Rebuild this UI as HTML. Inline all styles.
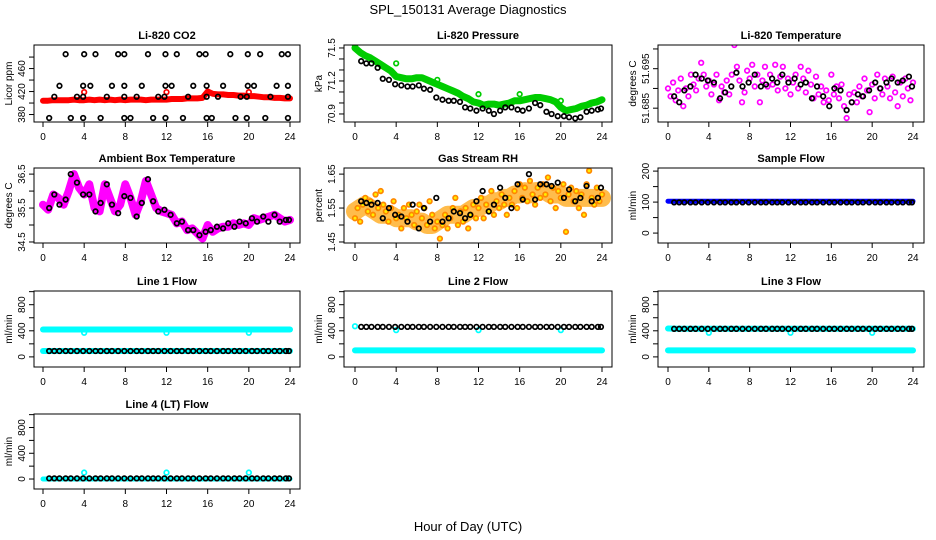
<!DOCTYPE html>
<html><head><meta charset="utf-8"><style>
html,body{margin:0;padding:0;background:#fff;}
svg{display:block;font-family:"Liberation Sans",Arial,sans-serif;}
</style></head><body>
<svg id="chart" width="936" height="540" viewBox="0 0 936 540" xmlns="http://www.w3.org/2000/svg">
<text x="468" y="14" text-anchor="middle" font-size="13">SPL_150131  Average Diagnostics</text>
<text x="468" y="531" text-anchor="middle" font-size="13">Hour of Day (UTC)</text>
</svg>
<script>
// ---- data ----
const blackHours = [0.6,1.1,1.6,2.2,2.7,3.3,3.9,4.5,5.1,5.6,6.2,6.7,7.3,7.9,8.5,9.1,9.6,10.2,10.7,11.2,11.8,12.4,13.0,13.5,14.1,14.6,15.2,15.8,16.3,16.9,17.5,18.0,18.6,19.1,19.7,20.3,20.8,21.4,21.9,22.5,23.0,23.6,23.9];
const xTicks = [0,4,8,12,16,20,24];

const co2Red = [404,404,405,405,405,405,406,405,405,406,405,406,405,406,405,406,405,406,406,406,405,406,406,406,406,407,407,407,408,408,408,409,420,416,415,415,414,414,413,413,412,412,411,410,410,409,409,408,408];
const co2RedOutHours = [4,12,20];
const co2RedOut = [419,419,419];
const co2BlackHours = [2.2,4,5.1,7.3,7.9,10.2,11.9,13,15.2,15.8,18.2,19.9,21.1,23.2,23.8, 1.6,3.9,4.6,6.7,7.9,9.6,11.9,12.5,14.6,15.9,17.5,19.9,20.5,22.7,23.8, 1.1,3.3,3.9,6.2,7.9,9.1,11.2,11.8,14.1,15.9,17,19.2,19.8,22.1,23.8, 0.6,2.7,3.9,5.6,7.9,8.5,10.7,11.9,13.6,15.9,16.4,18.7,19.8,21.6,23.8];
const co2Black = [485,485,485,485,485,485,485,485,485,485,485,485,485,485,485, 430,430,430,430,430,430,430,430,430,430,430,430,430,430,430, 411,411,411,411,411,411,411,411,411,411,411,411,411,411,411, 374,374,374,374,374,374,374,374,374,374,374,374,374,374,374];

const pressGreen = [71.5,71.46,71.43,71.41,71.38,71.35,71.32,71.29,71.24,71.23,71.22,71.22,71.23,71.23,71.21,71.19,71.17,71.15,71.13,71.11,71.09,71.06,71.04,71.01,71.0,70.98,70.99,70.99,70.98,70.99,71.0,71.02,71.02,71.03,71.04,71.05,71.05,71.04,71.03,71.01,70.96,70.93,70.94,70.95,70.97,70.98,71.0,71.01,71.03];
const pressOutHours = [0,4,8,12,16,20];
const pressOut = [71.52,71.36,71.21,71.08,71.08,71.02];
const pressBlack = [71.38,71.36,71.36,71.32,71.22,71.21,71.17,71.16,71.15,71.15,71.16,71.13,71.12,71.05,71.03,71.02,71.02,71.01,70.96,70.95,70.93,70.95,70.93,70.90,70.93,70.96,70.96,70.94,70.93,70.95,71.0,70.98,70.92,70.90,70.88,70.88,70.87,70.86,70.87,70.92,70.93,70.94,70.95];

const tempMag = [51.690,51.688,51.6915,51.687,51.6895,51.6925,51.6855,51.690,51.688,51.6935,51.691,51.6895,51.6925,
51.6965,51.6935,51.6905,51.692,51.6885,51.691,51.6935,51.687,51.6905,51.689,51.692,51.6885,
51.6935,51.701,51.6955,51.692,51.6865,51.689,51.6945,51.6925,51.696,51.6905,51.6935,51.6865,
51.692,51.6955,51.6905,51.6935,51.691,51.696,51.6895,51.693,51.6955,51.690,51.6925,51.6885,
51.6915,51.6935,51.690,51.6955,51.6925,51.689,51.6945,51.691,51.6875,51.693,51.6885,51.6905,
51.6865,51.6895,51.687,51.6935,51.6885,51.6905,51.6875,51.691,51.6855,51.6825,51.6885,51.6865,
51.689,51.6865,51.6905,51.688,51.6925,51.6895,51.684,51.691,51.6875,51.6935,51.690,51.6885,
51.6925,51.6905,51.6875,51.693,51.689,51.6855,51.6915,51.688,51.6925,51.690,51.687,51.6915];
const tempBlack = [51.688,51.6865,51.6895,51.6905,51.6935,51.6925,51.692,51.6915,51.6875,51.689,51.6905,51.694,51.6905,51.6915,51.6935,51.6905,51.691,51.6925,51.6915,51.6935,51.6915,51.6925,51.691,51.6915,51.6875,51.6905,51.688,51.6855,51.690,51.6895,51.6845,51.6865,51.6885,51.688,51.6895,51.6915,51.690,51.6915,51.6925,51.6915,51.692,51.693,51.6905];

const ambMag = [35.6,35.45,35.9,35.8,35.6,36.0,36.5,36.1,35.9,36.2,35.5,35.4,36.2,35.8,35.4,35.6,36.2,35.8,35.3,35.7,36.3,35.9,35.5,35.4,35.35,35.3,35.05,35.1,34.85,34.9,34.75,34.6,35.0,34.8,34.9,34.95,34.95,35.05,35.0,35.05,35.0,35.2,35.15,35.2,35.25,35.3,35.2,35.1,35.15];
const ambBlack = [35.5,35.9,35.6,35.75,36.5,36.25,35.9,35.9,35.4,35.65,36.2,35.6,35.35,35.85,35.8,35.25,35.65,36.35,35.7,35.4,35.45,35.3,35.05,35.1,34.85,34.85,34.7,34.8,34.85,34.95,34.9,35.05,34.95,35.1,35.05,35.2,35.1,35.25,35.1,35.3,35.1,35.15,35.15];

const rhOrange = [1.52,1.55,1.51,1.56,1.58,1.54,1.57,1.53,1.59,1.55,1.60,1.56,1.54,
1.51,1.55,1.57,1.52,1.53,1.49,1.55,1.52,1.56,1.53,1.50,1.54,
1.56,1.52,1.55,1.50,1.57,1.53,1.49,1.51,1.46,1.50,1.53,1.49,
1.52,1.55,1.58,1.50,1.54,1.51,1.55,1.49,1.53,1.56,1.52,1.55,
1.58,1.52,1.56,1.54,1.60,1.53,1.57,1.55,1.59,1.56,1.53,1.58,
1.56,1.60,1.55,1.62,1.58,1.61,1.57,1.63,1.59,1.56,1.61,1.58,
1.62,1.59,1.64,1.57,1.61,1.55,1.60,1.58,1.62,1.48,1.59,1.61,
1.57,1.60,1.55,1.59,1.53,1.62,1.66,1.58,1.56,1.61,1.57,1.59];
const rhTrend = [1.54,1.55,1.56,1.55,1.54,1.53,1.53,1.53,1.52,1.52,1.52,1.52,1.51,1.51,1.50,1.50,1.51,1.52,1.53,1.53,1.53,1.53,1.54,1.55,1.55,1.56,1.56,1.57,1.57,1.58,1.58,1.59,1.59,1.60,1.59,1.60,1.60,1.60,1.59,1.59,1.59,1.58,1.58,1.58,1.58,1.58,1.58,1.58,1.58];
const rhBlack = [1.57,1.565,1.56,1.565,1.52,1.55,1.53,1.525,1.51,1.56,1.49,1.55,1.51,1.58,1.51,1.52,1.54,1.535,1.52,1.53,1.57,1.60,1.54,1.56,1.61,1.58,1.55,1.62,1.575,1.65,1.575,1.62,1.62,1.615,1.625,1.58,1.605,1.57,1.58,1.615,1.57,1.58,1.61];

const sampleBlue = [103,103,103,103,103,103,103,103,103,103,103,103,103,103,103,103,103,103,103,103,103,103,103,103,103];
const sampleBlack = [99,99,99,99,99,99,99,99,99,99,99,99,99,99,99,99,99,99,99,99,99,99,99,99,99,99,99,99,99,99,99,99,99,99,99,99,99,99,99,99,99,99,99];

const outHours = [4,12,20];
const line1CyanHigh = [420,420,420,420,420,420,420,420,420,420,420,420,420,420,420,420,420,420,420,420,420,420,420,420,420];
const line1CyanOut = [370,370,370];
const line1CyanLow = [90,90,90,90,90,90,90,90,90,90,90,90,90,90,90,90,90,90,90,90,90,90,90,90,90];
const line1Black = [90,90,90,90,90,90,90,90,90,90,90,90,90,90,90,90,90,90,90,90,90,90,90,90,90,90,90,90,90,90,90,90,90,90,90,90,90,90,90,90,90,90,90];

const line2CyanStart = [470];
const line2CyanOut = [410,410,410];
const line2CyanLow = [100,100,100,100,100,100,100,100,100,100,100,100,100,100,100,100,100,100,100,100,100,100,100,100,100];
const line2Black = [460,460,460,460,460,460,460,460,460,460,460,460,460,460,460,460,460,460,460,460,460,460,460,460,460,460,460,460,460,460,460,460,460,460,460,460,460,460,460,460,460,460,460];

const line3CyanHigh = [435,430,430,430,430,430,430,430,430,430,430,430,430,430,430,430,430,430,430,430,430,430,430,430,430];
const line3CyanOut = [370,370,370];
const line3CyanLow = [100,100,100,100,100,100,100,100,100,100,100,100,100,100,100,100,100,100,100,100,100,100,100,100,100];
const line3Black = [430,430,430,430,430,430,430,430,430,430,430,430,430,430,430,430,430,430,430,430,430,430,430,430,430,430,430,430,430,430,430,430,430,430,430,430,430,430,430,430,430,430,430];

const line4Cyan = [0,0,0,0,0,0,0,0,0,0,0,0,0,0,0,0,0,0,0,0,0,0,0,0,0];
const line4CyanOut = [100,100,100];
const line4Black = [10,10,10,10,10,10,10,10,10,10,10,10,10,10,10,10,10,10,10,10,10,10,10,10,10,10,10,10,10,10,10,10,10,10,10,10,10,10,10,10,10,10,10];

const flowTicks = [0,200,400,600,800,1000];
const flowLabels = ["0","","400","","800",""];

// ---- drawing ----
const NS = "http://www.w3.org/2000/svg";
const svg = document.getElementById('chart');
function mk(tag, attrs, parent){
  const e = document.createElementNS(NS, tag);
  for (const k in attrs) e.setAttribute(k, attrs[k]);
  (parent||svg).appendChild(e);
  return e;
}
const cols = [{l:34,r:300,x0:43,x24:290},{l:344,r:612,x0:355,x24:602},{l:658,r:924,x0:668,x24:913}];
const rows = [{t:45,b:122},{t:168,b:243},{t:291,b:367},{t:414,b:489}];

function panel(name, title, ci, ri, ymin, ymax, yticks, ylabels, ytitle){
  const c = cols[ci], r = rows[ri];
  const g = mk('g', {});
  
  
  const sx = h => c.x0 + (c.x24 - c.x0) * h / 24;
  const sy = v => r.b - (r.b - r.t) * (v - ymin) / (ymax - ymin);
  const t = mk('text', {x:(c.l+c.r)/2, y:r.t-6, 'text-anchor':'middle', 'font-size':11, 'font-weight':'bold'}, g);
  t.textContent = title;
  
  
  const clip = 'clip-' + name;
  const cp = mk('clipPath', {id:clip}, g);
  mk('rect', {x:c.l, y:r.t, width:c.r-c.l, height:r.b-r.t}, cp);
  const plot = mk('g', {'clip-path':'url(#'+clip+')'}, g);
  const box = mk('rect', {x:c.l, y:r.t, width:c.r-c.l, height:r.b-r.t, fill:'none', stroke:'#000', 'stroke-width':1}, g);
  
  
  const xa = mk('g', {}, g);
  
  
  mk('line', {x1:sx(0), x2:sx(24), y1:r.b, y2:r.b, stroke:'#000'}, xa);
  xTicks.forEach(h => {
    mk('line', {x1:sx(h), x2:sx(h), y1:r.b, y2:r.b+5, stroke:'#000'}, xa);
    const tl = mk('text', {x:sx(h), y:r.b+18, 'text-anchor':'middle', 'font-size':10}, xa);
    tl.textContent = h;
  });
  const ya = mk('g', {}, g);
  
  
  mk('line', {x1:c.l, x2:c.l, y1:sy(yticks[0]), y2:sy(yticks[yticks.length-1]), stroke:'#000'}, ya);
  yticks.forEach((v,i) => {
    const y = sy(v);
    mk('line', {x1:c.l-5, x2:c.l, y1:y, y2:y, stroke:'#000'}, ya);
    if (ylabels[i]) {
      const tl = mk('text', {x:0, y:0, 'text-anchor':'middle', 'font-size':10, transform:'translate('+(c.l-9)+','+y+') rotate(-90)'}, ya);
      tl.textContent = ylabels[i];
    }
  });
  const yt = mk('text', {x:0, y:0, 'text-anchor':'middle', 'font-size':10, transform:'translate('+(c.l-22)+','+((r.t+r.b)/2)+') rotate(-90)'}, g);
  yt.textContent = ytitle;
  
  
  return {plot, sx, sy};
}
function band(p, vals, color, width, name){
  const n = vals.length;
  const pts = vals.map((v,i) => p.sx(24*i/(n-1)).toFixed(1) + ',' + p.sy(v).toFixed(1)).join(' ');
  const pl = mk('polyline', {points:pts, fill:'none', stroke:color, 'stroke-width':width, 'stroke-linejoin':'round', 'stroke-linecap':'round'}, p.plot);
  
  
}
function dots(p, hours, vals, color, name, fill){
  const g = mk('g', {}, p.plot);
  
  
  vals.forEach((v,i) => {
    const h = hours ? hours[i] : 24*i/(vals.length-1);
    mk('circle', {cx:p.sx(h), cy:p.sy(v), r:2.3, fill:fill||'none', stroke:color, 'stroke-width':1.7}, g);
  });
}

let p;
p = panel('co2-panel','Li-820 CO2',0,0,367,501,[380,400,420,440,460,480],['380','','420','','460',''],'Licor ppm');
band(p, co2Red, '#ff0000', 6, 'co2-red-series');
dots(p, co2RedOutHours, co2RedOut, '#ff0000', 'co2-red-outliers');
dots(p, co2BlackHours, co2Black, '#000', 'co2-black-points');

p = panel('pressure-panel','Li-820 Pressure',1,0,70.827,71.527,[70.9,71.0,71.1,71.2,71.3,71.4,71.5],['70.9','','','71.2','','','71.5'],'kPa');
band(p, pressGreen, '#00cc00', 7, 'pressure-green-series');
dots(p, pressOutHours, pressOut, '#00cc00', 'pressure-green-outliers');
dots(p, blackHours, pressBlack, '#000', 'pressure-black-points');

p = panel('licor-temp-panel','Li-820 Temperature',2,0,51.6815,51.701,[51.685,51.690,51.695,51.700],['51.685','','51.695',''],'degrees C');
dots(p, null, tempMag, '#ff00ff', 'temp-magenta-points');
dots(p, blackHours, tempBlack, '#000', 'temp-black-points');

p = panel('ambient-temp-panel','Ambient Box Temperature',0,1,34.47,36.68,[34.5,35,35.5,36,36.5],['34.5','','35.5','','36.5'],'degrees C');
band(p, ambMag, '#ff00ff', 8, 'ambient-magenta-series');
dots(p, blackHours, ambBlack, '#000', 'ambient-black-points');

p = panel('rh-panel','Gas Stream RH',1,1,1.447,1.668,[1.45,1.5,1.55,1.6,1.65],['1.45','','1.55','','1.65'],'percent');
band(p, rhTrend, 'rgba(255,160,0,0.7)', 18, 'rh-orange-band');
dots(p, null, rhOrange, '#ff8800', 'rh-orange-points', '#ffee00');
dots(p, blackHours, rhBlack, '#000', 'rh-black-points');

p = panel('sample-flow-panel','Sample Flow',2,1,-32,210,[0,50,100,150,200],['0','','100','','200'],'ml/min');
band(p, sampleBlue, '#0000ff', 5, 'sample-blue-series');
dots(p, blackHours, sampleBlack, '#000', 'sample-black-points');

p = panel('line1-flow-panel','Line 1 Flow',0,2,-155,1010,flowTicks,flowLabels,'ml/min');
band(p, line1CyanHigh, '#00ffff', 6, 'line1-cyan-high');
dots(p, outHours, line1CyanOut, '#00ffff', 'line1-cyan-outliers');
band(p, line1CyanLow, '#00ffff', 6, 'line1-cyan-low');
dots(p, blackHours, line1Black, '#000', 'line1-black-points');

p = panel('line2-flow-panel','Line 2 Flow',1,2,-155,1010,flowTicks,flowLabels,'ml/min');
band(p, line2CyanLow, '#00ffff', 6, 'line2-cyan-low');
dots(p, [0], line2CyanStart, '#00ffff', 'line2-cyan-start');
dots(p, outHours, line2CyanOut, '#00ffff', 'line2-cyan-outliers');
dots(p, blackHours, line2Black, '#000', 'line2-black-points');

p = panel('line3-flow-panel','Line 3 Flow',2,2,-155,1010,flowTicks,flowLabels,'ml/min');
band(p, line3CyanHigh, '#00ffff', 6, 'line3-cyan-high');
dots(p, outHours, line3CyanOut, '#00ffff', 'line3-cyan-outliers');
band(p, line3CyanLow, '#00ffff', 6, 'line3-cyan-low');
dots(p, blackHours, line3Black, '#000', 'line3-black-points');

p = panel('line4-flow-panel','Line 4 (LT) Flow',0,3,-155,1010,flowTicks,flowLabels,'ml/min');
band(p, line4Cyan, '#00ffff', 5, 'line4-cyan-series');
dots(p, outHours, line4CyanOut, '#00ffff', 'line4-cyan-outliers');
dots(p, blackHours, line4Black, '#000', 'line4-black-points');
</script>
</body></html>
